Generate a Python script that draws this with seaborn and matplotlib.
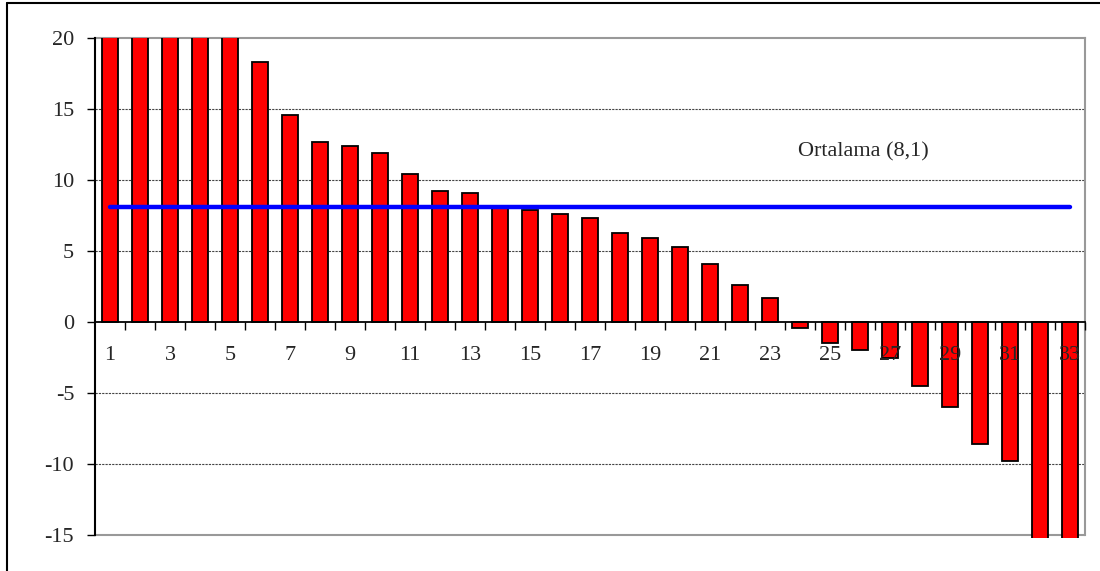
import matplotlib
matplotlib.use("Agg")
import matplotlib.pyplot as plt
import seaborn as sns
import pandas as pd
from matplotlib.patches import Rectangle
from matplotlib.lines import Line2D

# ---- data ----
categories = [str(i) for i in range(1, 34)]
values = [22.0, 22.0, 22.0, 22.0, 22.0, 18.3, 14.6, 12.7, 12.4, 11.9,
          10.4, 9.2, 9.1, 8.1, 7.9, 7.6, 7.3, 6.3, 5.9, 5.3,
          4.1, 2.6, 1.7, -0.4, -1.5, -2.0, -2.5, -4.5, -6.0, -8.6,
          -9.8, -17.0, -17.0]
average = 8.1
average_label = "Ortalama (8,1)"
yticks = [-15, -10, -5, 0, 5, 10, 15, 20]
xlabels_shown = [str(i) for i in range(1, 34, 2)]

df = pd.DataFrame({"cat": categories, "val": values})

sns.set_style("white")
plt.rcParams['font.family'] = ['Liberation Serif', 'DejaVu Serif']

fig = plt.figure(figsize=(11, 5.71), dpi=100)
ax = fig.add_axes([95/1100, 1-535/571, 990/1100, 497/571])
ax.set_axisbelow(False)

sns.barplot(data=df, x="cat", y="val", color="#ff0000", saturation=1,
            width=0.53, edgecolor="black", linewidth=1.3, ax=ax, zorder=2)

ax.set_xlim(-0.5, 32.5)
ax.set_ylim(-15, 20)

# clip bars to plot area, extending slightly below the bottom
clip = Rectangle((0, -0.007), 1, 1.007, transform=ax.transAxes,
                 facecolor="none", edgecolor="none")
ax.add_patch(clip)
for p in ax.patches:
    if p is not clip:
        p.set_clip_path(clip)

# average line
xs = list(range(len(categories)))
ax.plot(xs, [average] * len(xs), color="#0000ff", linewidth=3.2,
        solid_capstyle="round", zorder=4)
ax.text(25.1, 12.0, average_label, ha="center", va="center", fontsize=16,
        zorder=5)

# grid
for y in [5, 10, 15, -5, -10]:
    ax.axhline(y, color="#444444", linestyle=(0, (2, 1)), linewidth=0.8,
               zorder=1)

# spines
for s in ["top", "right"]:
    ax.spines[s].set_color("#999999")
    ax.spines[s].set_linewidth(1.5)
ax.spines["top"].set_zorder(1)
ax.spines["left"].set_color("black")
ax.spines["left"].set_linewidth(1.5)
ax.spines["bottom"].set_position(("data", 0))
ax.spines["bottom"].set_color("black")
ax.spines["bottom"].set_linewidth(1.3)
ax.plot([0, 1], [0, 0], transform=ax.transAxes, color="#999999",
        linewidth=1.5, clip_on=False, zorder=1.5)

# ticks
ax.set_yticks(yticks)
ax.set_yticklabels([str(v) for v in yticks])
ax.tick_params(axis="y", which="major", direction="out", length=6,
               width=1, color="black", pad=9, labelsize=16, left=True)

ax.set_xticks(list(range(0, 33, 2)))
ax.set_xticklabels(xlabels_shown)
ax.set_xticks([i - 0.5 for i in range(1, 33)] + [32.5], minor=True)
ax.tick_params(axis="x", which="major", length=0, pad=17, labelsize=16,
               bottom=True)
ax.tick_params(axis="x", which="minor", direction="out", length=6,
               width=1, color="black", bottom=True)
ax.set_xlabel("")
ax.set_ylabel("")

# outer frame of the figure (left and top)
fig.add_artist(Line2D([7/1100, 7/1100], [0, 1-3/571], transform=fig.transFigure,
                      color="black", linewidth=1.5))
fig.add_artist(Line2D([7/1100, 1], [1-3/571, 1-3/571], transform=fig.transFigure,
                      color="black", linewidth=1.5))

fig.savefig("out.png", dpi=100)
